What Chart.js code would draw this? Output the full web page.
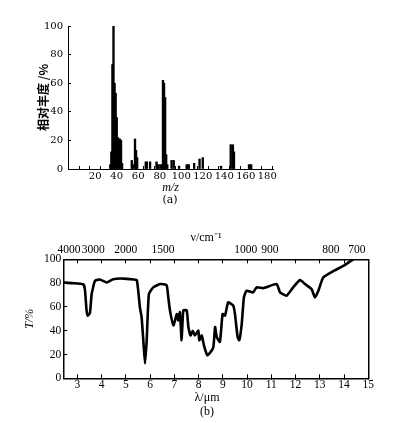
<!DOCTYPE html>
<html>
<head>
<meta charset="utf-8">
<script src="https://cdn.jsdelivr.net/npm/chart.js@4"></script>
<style>
  body { margin: 0; background: #fff; }
  canvas { position: absolute; left: 0; }
  #msChart { top: 0; }
  #irChart { top: 225px; }
</style>
</head>
<body>
<canvas id="msChart" width="396" height="215"></canvas>
<canvas id="irChart" width="396" height="198"></canvas>
<script>
// (a) mass spectrum
const MZ        = [34, 35, 36, 37, 38, 39, 40, 41, 42, 43, 44, 45, 54, 55, 57, 58, 59, 67, 68, 71, 77, 78, 79, 81, 82, 83, 84, 85, 86, 87, 91, 93, 98, 105, 106, 107, 112, 117, 120, 137, 146, 148, 149, 163, 164, 165]
const ABUNDANCE = [3, 12, 73, 100, 60, 53, 36, 22, 21, 21, 20, 4, 6, 3, 21, 13, 8, 5, 5, 5, 5, 3, 3, 3, 3, 62, 60, 50, 10, 3, 6, 6, 2, 3, 3, 3, 4, 7, 8, 2, 17, 17, 12, 3, 3, 3]
const MZ_TICKS  = [10, 20, 30, 40, 50, 60, 70, 80, 90, 100, 110, 120, 130, 140, 150, 160, 170, 180]

// (b) IR spectrum
const WAVELENGTH    = [2.42, 2.8, 3.24, 3.31, 3.38, 3.43, 3.52, 3.59, 3.73, 3.93, 4.21, 4.48, 4.89, 5.31, 5.45, 5.51, 5.58, 5.65, 5.72, 5.79, 5.86, 5.95, 6.13, 6.41, 6.68, 6.75, 6.82, 6.96, 7.10, 7.16, 7.23, 7.30, 7.37, 7.51, 7.58, 7.67, 7.76, 7.85, 7.99, 8.03, 8.13, 8.22, 8.36, 8.47, 8.61, 8.68, 8.75, 8.88, 8.99, 9.09, 9.22, 9.43, 9.50, 9.61, 9.68, 9.78, 9.87, 9.98, 10.25, 10.39, 10.67, 11.22, 11.36, 11.63, 11.90, 12.18, 12.39, 12.66, 12.80, 12.94, 13.14, 13.55, 13.97, 14.38]
const TRANSMITTANCE = [80.5, 80, 79, 75, 57, 52.5, 55, 70.8, 82, 83, 80.5, 83.3, 83.8, 83, 82.5, 73.6, 59.7, 51.3, 32, 12.5, 32, 70.8, 76.4, 79.2, 78.3, 68, 57, 44.4, 54, 48.6, 55.5, 32, 57, 57, 43, 36, 40, 36, 40, 32, 36, 27.7, 19.4, 21.4, 26.4, 43, 34.7, 30.5, 54, 52.7, 63.8, 61, 54, 34.7, 32, 45.8, 68, 73.6, 72.2, 76.4, 75.8, 79.2, 72.2, 69.4, 76.4, 82.5, 79.2, 75, 68, 73.6, 84.7, 90, 94.4, 100]
const WL_TICKS      = [3, 4, 5, 6, 7, 8, 9, 10, 11, 12, 13, 14, 15]
const WN_LABELS     = ['4000', '3000', '2000', '1500', '1000', '900', '800', '700']
const WN_AT_WL      = [2.66, 3.66, 5.0, 6.53, 9.95, 10.94, 13.46, 14.53]

const captions = {
    id: 'captions',
    afterDraw(chart, args, opts) {
        const c = chart.ctx
        c.save()
        c.fillStyle = '#000'
        c.textAlign = 'center'
        c.textBaseline = 'middle'
        for (const t of opts.items) {
            c.font = t.font
            c.fillText(t.text, t.x, t.y)
        }
        c.restore()
    }
}

const serifA = { family: 'DejaVu Serif', size: 10 }
const serifB = { family: 'Liberation Serif', size: 11.5 }

new Chart(document.getElementById('msChart'), {
    type: 'bar',
    data: {
        datasets: [{
            data: MZ.map((m, i) => ({ x: m, y: ABUNDANCE[i] })),
            backgroundColor: '#000',
            barThickness: 1.7
        }]
    },
    plugins: [captions],
    options: {
        responsive: false,
        animation: false,
        layout: { padding: { top: 26, right: 123, left: 0, bottom: 0 } },
        plugins: {
            legend: { display: false },
            tooltip: { enabled: false },
            captions: { items: [{ text: '(a)', x: 170, y: 200, font: '11px "DejaVu Serif"' }] }
        },
        scales: {
            x: {
                type: 'linear', min: 0, max: 180,
                afterBuildTicks: s => { s.ticks = MZ_TICKS.map(v => ({ value: v })) },
                afterFit: s => { s.height = 46 },
                ticks: { autoSkip: false, maxRotation: 0, padding: 4, color: '#000', font: serifA,
                         callback: v => v % 20 === 0 ? v : '' },
                grid: { drawOnChartArea: false, tickLength: -3, color: '#000' },
                border: { color: '#000', width: 1 },
                title: { display: true, text: 'm/z', color: '#000', padding: { top: 0, bottom: 20 },
                         font: { family: 'Liberation Serif', size: 12, style: 'italic' } }
            },
            y: {
                min: 0, max: 100,
                afterFit: s => { s.width = 68 },
                ticks: { stepSize: 10, padding: 8, color: '#000', font: serifA },
                grid: { drawOnChartArea: false, tickLength: -3, color: '#000' },
                border: { color: '#000', width: 1 },
                title: { display: true, text: '相对丰度 /%', color: '#000', padding: { top: 36, bottom: 0 },
                         font: { family: 'Noto Sans CJK SC', size: 12, weight: 'bold' } }
            }
        }
    }
})

new Chart(document.getElementById('irChart'), {
    type: 'line',
    data: {
        datasets: [{
            data: WAVELENGTH.map((w, i) => ({ x: w, y: TRANSMITTANCE[i] })),
            borderColor: '#000',
            borderWidth: 2.6,
            pointRadius: 0,
            tension: 0.15,
            xAxisID: 'x',
            yAxisID: 'y'
        }]
    },
    plugins: [captions],
    options: {
        responsive: false,
        animation: false,
        layout: { padding: { top: 0, right: 27.7, left: 0, bottom: 0 } },
        plugins: {
            legend: { display: false },
            tooltip: { enabled: false },
            captions: { items: [
                { text: 'ν/cm⁻¹', x: 206, y: 13, font: '12px "Liberation Serif"' },
                { text: 'λ/μm', x: 207, y: 173, font: '12px "Liberation Serif"' },
                { text: '(b)', x: 207, y: 187, font: '12px "Liberation Serif"' }
            ] }
        },
        scales: {
            x: {
                type: 'linear', position: 'bottom', min: 2.42, max: 15,
                afterBuildTicks: s => { s.ticks = WL_TICKS.map(v => ({ value: v })) },
                afterFit: s => { s.height = 44.7 },
                ticks: { autoSkip: false, maxRotation: 0, padding: 4, color: '#000', font: serifB },
                grid: { drawOnChartArea: false, tickLength: -4, color: '#000' },
                border: { color: '#000', width: 1.5 }
            },
            x2: {
                type: 'linear', position: 'top', min: 2.42, max: 15,
                afterBuildTicks: s => {
                    const marks = WL_TICKS.slice(0, -1).map(v => ({ value: v, wn: '' }))
                    const labels = WN_LABELS.map((t, i) => ({ value: WN_AT_WL[i], wn: t }))
                    s.ticks = marks.concat(labels).sort((a, b) => a.value - b.value)
                },
                afterFit: s => { s.height = 34.3 },
                ticks: { autoSkip: false, maxRotation: 0, padding: 6, color: '#000', font: serifB,
                         callback: function (v, i, ticks) { return ticks[i].wn } },
                grid: { drawOnChartArea: false, tickLength: -4,
                        tickColor: ctx => (ctx.tick && ctx.tick.wn) ? 'rgba(0,0,0,0)' : '#000' },
                border: { color: '#000', width: 1.5 }
            },
            y: {
                min: 0, max: 100,
                afterFit: s => { s.width = 63.3 },
                ticks: { stepSize: 20, padding: 6, color: '#000', font: serifB },
                grid: { drawOnChartArea: false, tickLength: -4, color: '#000' },
                border: { color: '#000', width: 1.5 },
                title: { display: true, text: 'T/%', color: '#000', padding: { top: 23, bottom: 0 },
                         font: { family: 'Liberation Serif', size: 12, style: 'italic' } }
            },
            yr: {
                position: 'right', min: 0, max: 100,
                afterFit: s => { s.width = 0 },
                ticks: { display: false },
                grid: { drawOnChartArea: false, drawTicks: false },
                border: { color: '#000', width: 1.5 }
            }
        }
    }
})
</script>
</body>
</html>
